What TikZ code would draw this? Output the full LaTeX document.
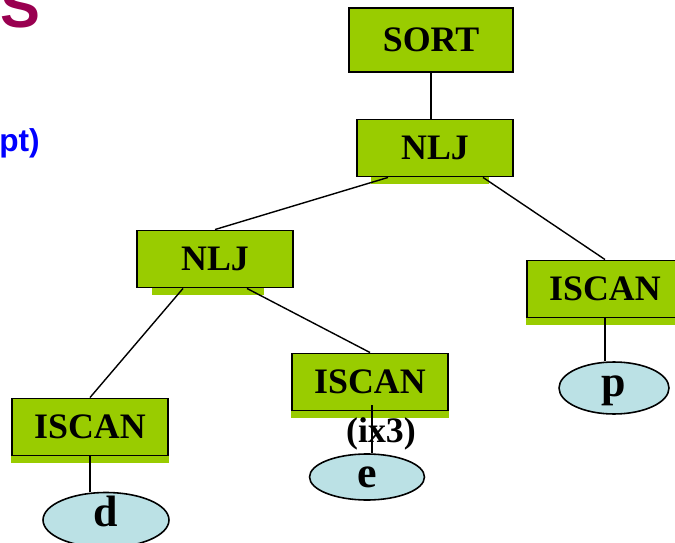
\documentclass[tikz,border=0pt]{standalone}
\usepackage{fontspec}
\setmainfont{Liberation Serif}
\newfontfamily\slidefont{Liberation Sans}
\usetikzlibrary{shapes.geometric}
\definecolor{opgreen}{HTML}{99CC00}
\definecolor{relblue}{HTML}{BBE1E5}
\definecolor{titlered}{HTML}{990050}
\tikzset{
    op/.style={draw, line width=1.1pt, fill=opgreen, minimum width=3.12cm, minimum height=1.14cm,
        font=\fontsize{20.4}{22}\selectfont\bfseries}, % operator boxes
    rel/.style={ellipse, draw, line width=0.9pt, fill=relblue, inner sep=0pt,
        font=\fontsize{25}{27}\selectfont\bfseries}, % base relations
    link/.style={line width=0.8pt}, % plan edges
}
\begin{document}
\begin{tikzpicture}[x=0.02cm, y=-0.02cm]
\useasboundingbox (0,0) rectangle (675,543);
% what is left of the slide text
\node[anchor=base west, inner sep=0pt, text=titlered, font=\slidefont\fontsize{34}{36}\selectfont\bfseries] (title) at (0,28) {S};
\node[anchor=base east, inner sep=0pt, text=blue, font=\slidefont\fontsize{18}{20}\selectfont\bfseries] (note) at (40,152) {pt)};
% plan operators
\node[op, minimum width=3.28cm, minimum height=1.28cm] (sort) at (431,40) {SORT};
\node[op] (nljtop) at (435,148) {NLJ};
\node[op] (nljl) at (215,259) {NLJ};
\node[op] (iscp) at (605,289) {ISCAN};
\node[op] (isce) at (370,382) {ISCAN};
\node[op] (iscd) at (90,427) {ISCAN};
% relations
\node[rel, minimum width=2.52cm, minimum height=1.1cm, text height=7.4pt, text depth=-7.4pt] (d) at (106,520) {d};
\node[rel, minimum width=2.3cm, minimum height=0.92cm, text height=11.9pt, text depth=-11.9pt] (e) at (367,477) {e};
\node[rel, minimum width=2.2cm, minimum height=1.04cm, text height=9.6pt, text depth=-9.6pt] (p) at (614,388) {p};
% green under the boxes
\foreach \n/\a/\b in {nljtop/15/25, nljl/16/30, iscp/0/0, isce/0/0, iscd/0/0}
    \fill[opgreen] ([shift={(\a,0)}]\n.south west) rectangle ([shift={(-\b,7)}]\n.south east);
\node[font=\fontsize{20.4}{22}\selectfont\bfseries, inner sep=0pt] (ix) at (381,434) {(ix3)};
% edges
\draw[link] (sort.south) -- (sort.south |- nljtop.north);
\draw[link] ([shift={(-47,0)}]nljtop.south) -- (nljl.north);
\draw[link] ([shift={(48,0)}]nljtop.south) -- (iscp.north);
\draw[link] ([shift={(-32,0)}]nljl.south) -- (iscd.north);
\draw[link] ([shift={(32,0)}]nljl.south) -- (isce.north);
\draw[link] (iscd.south) -- (iscd.south |- d.north);
\draw[link] ([shift={(2,-6)}]isce.south) -- ([shift={(2,0)}]isce.south |- e.north);
\draw[link] (iscp.south) -- (iscp.south |- p.north);
\end{tikzpicture}
\end{document}
